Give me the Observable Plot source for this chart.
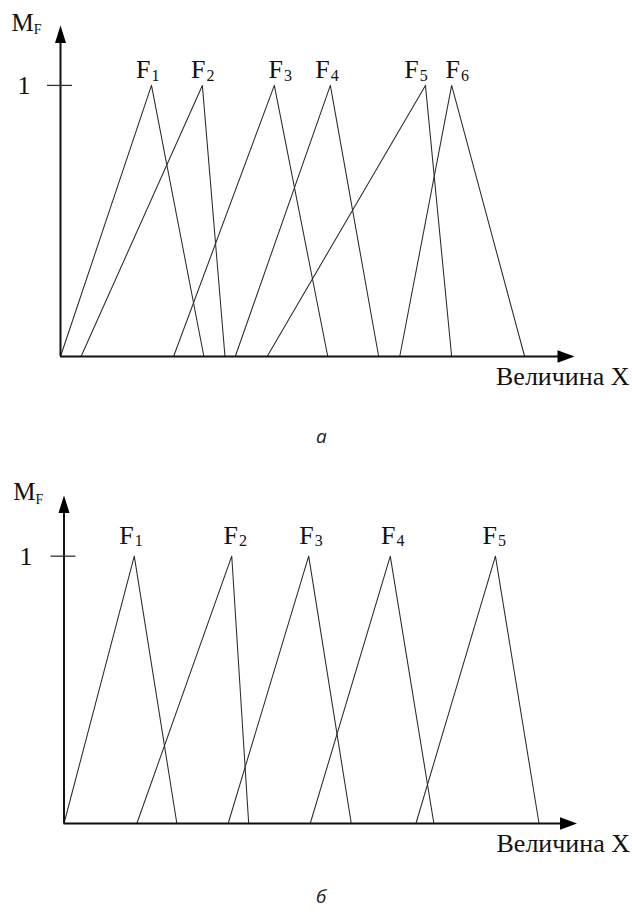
<!DOCTYPE html>
<html><head><meta charset="utf-8">
<script src="https://cdn.jsdelivr.net/npm/d3@7"></script>
<script src="https://cdn.jsdelivr.net/npm/@observablehq/plot@0.6"></script>
<style>
html,body{margin:0;padding:0;background:#fff;}
#page{position:relative;width:632px;height:912px;overflow:hidden;background:#fff;}
.panel{position:absolute;left:0;}
.cap{position:absolute;font-family:"Open Sans",sans-serif;font-style:italic;font-size:19px;line-height:26px;color:#222;}
</style></head><body>
<div id="page">
<div id="pa" class="panel" style="top:0px"></div>
<div id="ca" class="cap" style="left:316px;top:423px"></div>
<div id="pb" class="panel" style="top:470px"></div>
<div id="cb" class="cap" style="left:316px;top:883px"></div>
</div>
<script>
// ---- text ----
const xTitle = "Величина X";
const yTitleMain = "M";
const yTitleSub = "F";
const yTicks = [1];
const setLetter = "F";
const captions = ["а", "б"];

// ---- panel а: six triangular membership functions (x in arbitrary units, 0..100 = axis length) ----
const subsA   = ["1", "2", "3", "4", "5", "6"];
const leftA   = [0,    4.0,  22.0, 34.0, 40.2, 66.0];
const peakA   = [17.7, 27.6, 41.6, 52.5, 71.0, 76.1];
const rightA  = [27.9, 32.0, 52.0, 61.9, 76.1, 90.3];
const labelXA = [17.5, 28.2, 43.3, 52.4, 69.7, 77.7];

// ---- panel б: five triangular membership functions ----
const subsB   = ["1", "2", "3", "4", "5"];
const leftB   = [0,    14.2, 32.0, 48.0, 68.6];
const peakB   = [13.7, 32.7, 47.7, 63.6, 84.1];
const rightB  = [22.0, 36.0, 56.0, 72.1, 92.6];
const labelXB = [13.6, 33.9, 48.7, 64.6, 84.4];

const arrowUp = {draw(ctx) { ctx.moveTo(0, 0); ctx.lineTo(5.5, 17.5); ctx.lineTo(-5.5, 17.5); ctx.closePath(); }};
const arrowRight = {draw(ctx) { ctx.moveTo(0, 0); ctx.lineTo(-17, 6.3); ctx.lineTo(-17, -6.3); ctx.closePath(); }};

function makePanel(series, cfg) {
  const pts = [];
  series.subs.forEach((s, i) => {
    pts.push({s, x: series.left[i], y: 0});
    pts.push({s, x: series.peak[i], y: 1});
    pts.push({s, x: series.right[i], y: 0});
  });
  const yMax = cfg.yMax;
  return Plot.plot({
    width: 632,
    height: 400,
    marginLeft: cfg.marginLeft,
    marginRight: cfg.marginRight,
    marginTop: 25,
    marginBottom: cfg.marginBottom,
    style: {fontFamily: "'Liberation Serif', serif", fontSize: "26px", background: "white", color: "#111", overflow: "visible"},
    x: {domain: [0, 100], axis: null},
    y: {domain: [0, yMax], axis: null},
    marks: [
      Plot.line(pts, {x: "x", y: "y", z: "s", stroke: "#2a2a2a", strokeWidth: 1.05}),
      Plot.ruleX([0], {y1: 0, y2: yMax - 0.04, stroke: "#111", strokeWidth: 2}),
      Plot.ruleY([0], {x1: 0, x2: 97, stroke: "#111", strokeWidth: 2}),
      Plot.dot([0], {x: 0, y: yMax, symbol: arrowUp, fill: "#000", stroke: "none", r: 5}),
      Plot.dot([0], {x: 100, y: 0, symbol: arrowRight, fill: "#000", stroke: "none", r: 5}),
      Plot.axisY({ticks: yTicks, tickFormat: d => String(d), label: null, tickSize: 25, dx: 12,
                  tickPadding: cfg.tickPadding, strokeWidth: 1.3, stroke: "#333", fontSize: 26}),
      Plot.text(series.subs, {x: series.labelX, y: 1, text: () => setLetter, textAnchor: "end",
                              lineAnchor: "bottom", dy: cfg.labelDy, fontSize: 26}),
      Plot.text(series.subs, {x: series.labelX, y: 1, text: d => d, textAnchor: "start",
                              lineAnchor: "bottom", dx: 1, dy: cfg.labelDy + 2.3, fontSize: 16}),
      Plot.text([yTitleMain], {frameAnchor: "top-left", text: d => d, textAnchor: "end", lineAnchor: "bottom",
                               dx: cfg.titleDx, dy: cfg.titleDy, fontSize: 25}),
      Plot.text([yTitleSub], {frameAnchor: "top-left", text: d => d, textAnchor: "start", lineAnchor: "bottom",
                              dx: cfg.titleDx, dy: cfg.titleDy + 3.8, fontSize: 14}),
      Plot.text([xTitle], {frameAnchor: "bottom-right", text: d => d, textAnchor: "end", lineAnchor: "bottom",
                           dx: cfg.xTitleDx, dy: 28, fontSize: 26})
    ]
  });
}

document.getElementById("pa").appendChild(makePanel(
  {subs: subsA, left: leftA, peak: peakA, right: rightA, labelX: labelXA},
  {marginLeft: 60, marginRight: 58, marginBottom: 44, yMax: 1.221, tickPadding: 17,
   labelDy: -7, titleDx: -26.7, titleDy: 5, xTitleDx: 55}
));
document.getElementById("pb").appendChild(makePanel(
  {subs: subsB, left: leftB, peak: peakB, right: rightB, labelX: labelXB},
  {marginLeft: 63.5, marginRight: 55.5, marginBottom: 47, yMax: 1.227, tickPadding: 18.5,
   labelDy: -12.4, titleDx: -28.5, titleDy: 4.3, xTitleDx: 53}
));
document.getElementById("ca").textContent = captions[0];
document.getElementById("cb").textContent = captions[1];
</script>
</body></html>
